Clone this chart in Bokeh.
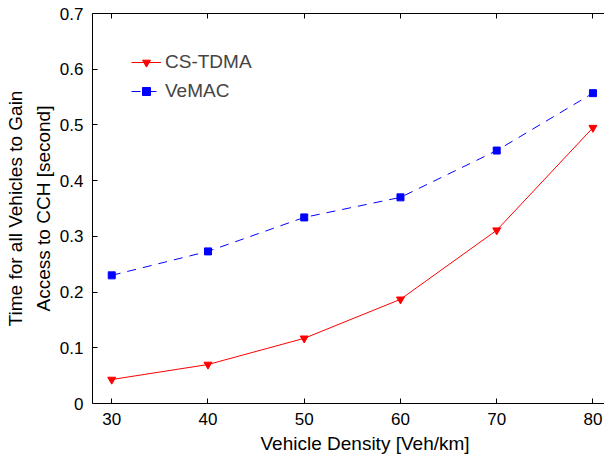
from bokeh.plotting import figure
from bokeh.models import Range1d, LinearAxis, FixedTicker, Legend, LegendItem, Title
from bokeh.embed import file_html
from bokeh.resources import INLINE

density = [30, 40, 50, 60, 70, 80]
cs_tdma = [0.043, 0.070, 0.117, 0.187, 0.311, 0.495]
vemac = [0.230, 0.273, 0.334, 0.370, 0.454, 0.557]
x_ticks = [30, 40, 50, 60, 70, 80]
y_ticks = [0, 0.1, 0.2, 0.3, 0.4, 0.5, 0.6, 0.7]

FONT = "Liberation Sans"

p = figure(width=604, height=459, output_backend="svg", toolbar_location=None,
           x_range=Range1d(28, 81.2), y_range=Range1d(0, 0.7),
           min_border_left=92, min_border_right=0, min_border_top=13, min_border_bottom=56)
p.outline_line_color = None
p.grid.visible = False
p.background_fill_color = "white"

l1 = p.line(density, cs_tdma, line_color="red", line_width=1)
m1 = p.scatter(density, cs_tdma, marker="inverted_triangle", size=8, fill_color="red", line_color="red")
l2 = p.line(density, vemac, line_color="blue", line_width=1, line_dash="9 7")
m2 = p.scatter(density, vemac, marker="square", size=7, fill_color="blue", line_color="blue")

for ax in (p.xaxis[0], p.yaxis[0]):
    ax.major_tick_in = 5
    ax.major_tick_out = 0
    ax.minor_tick_line_color = None
    ax.axis_line_color = "black"
    ax.major_tick_line_color = "black"
    ax.major_label_text_font = FONT
    ax.major_label_text_font_size = "17px"
    ax.major_label_text_color = "black"
    ax.axis_label_text_font = FONT
    ax.axis_label_text_font_size = "19px"
    ax.axis_label_text_font_style = "normal"
    ax.axis_label_text_color = "black"

p.xaxis[0].ticker = FixedTicker(ticks=x_ticks)
p.yaxis[0].ticker = FixedTicker(ticks=y_ticks)
p.yaxis[0].axis_label = "Access to CCH [second]"
p.xaxis[0].major_label_standoff = 9
p.yaxis[0].major_label_standoff = 9
p.yaxis[0].axis_label_standoff = 3

xtitle = Title(text="Vehicle Density [Veh/km]", align="left", offset=168, standoff=6,
               text_font=FONT, text_font_size="19px", text_font_style="normal",
               text_color="black")
p.add_layout(xtitle, "below")

outer = LinearAxis(ticker=FixedTicker(ticks=[]), axis_line_color=None, major_tick_line_color=None,
                   minor_tick_line_color=None, major_tick_in=0, major_tick_out=0,
                   major_label_text_font_size="0px", major_label_standoff=0,
                   axis_label="Time for all Vehicles to Gain", axis_label_standoff=4,
                   axis_label_text_font=FONT, axis_label_text_font_size="19px",
                   axis_label_text_font_style="normal", axis_label_text_color="black")
p.add_layout(outer, "left")

top = LinearAxis(ticker=FixedTicker(ticks=x_ticks), major_tick_in=5, major_tick_out=0,
                 minor_tick_line_color=None, major_label_text_color=None,
                 major_label_text_font_size="1px", major_label_standoff=0)
p.add_layout(top, "above")

legend = Legend(items=[LegendItem(label="CS-TDMA", renderers=[l1, m1]),
                       LegendItem(label="VeMAC", renderers=[l2, m2])],
                location="top_left", border_line_color=None, background_fill_alpha=0,
                label_text_font=FONT, label_text_font_size="19px",
                glyph_width=30, label_standoff=4, spacing=7,
                margin=0, padding=0)
legend.location = (39, 301)
p.add_layout(legend, "center")

open("out.html", "w").write(file_html(p, INLINE))
